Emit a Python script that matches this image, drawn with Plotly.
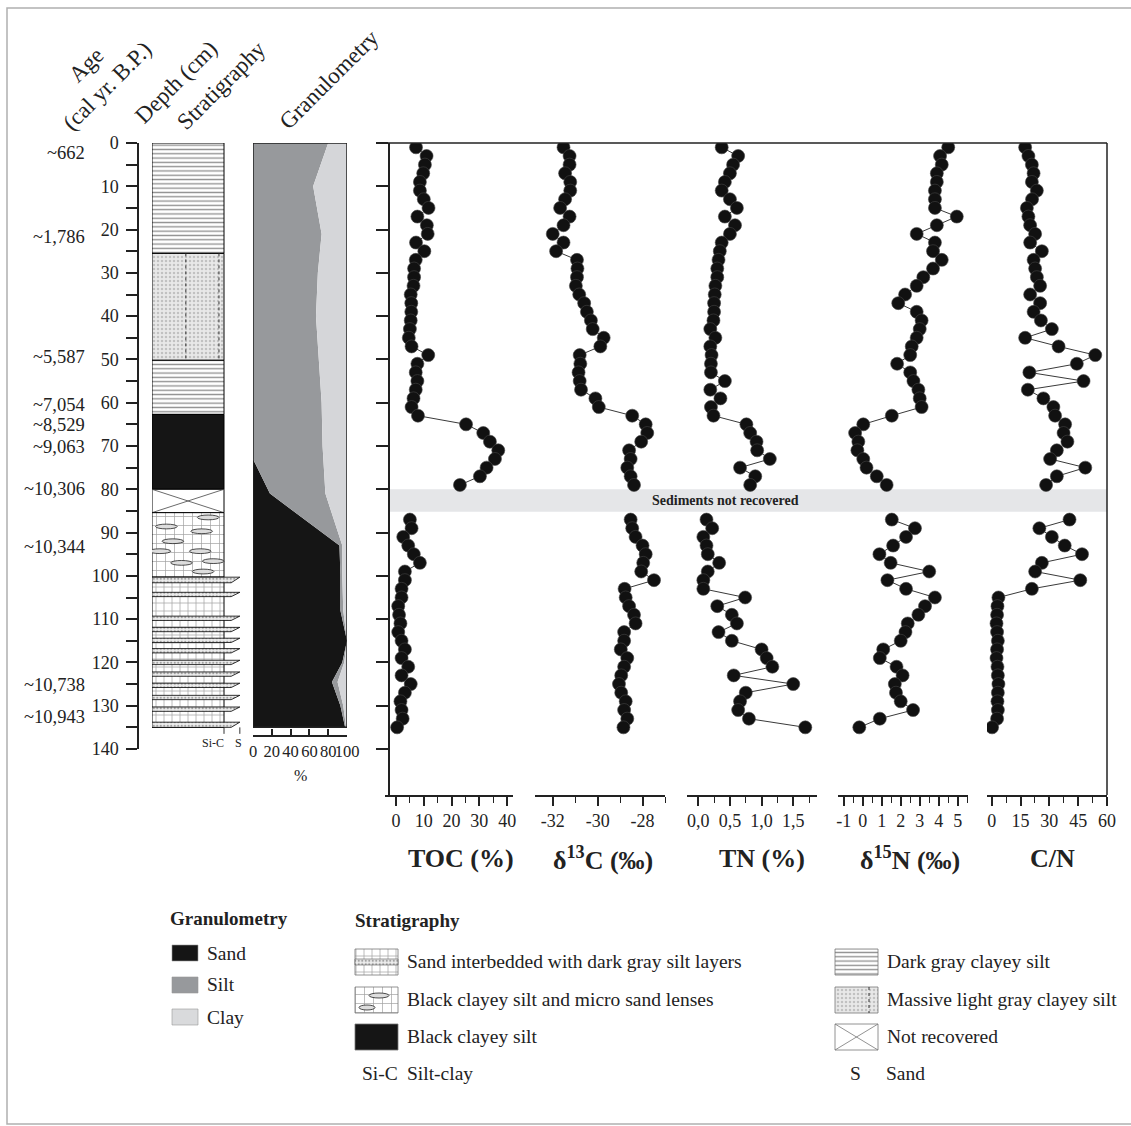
import plotly.graph_objects as go

W, H = 1131, 1126
SERIF = "Liberation Serif, Times New Roman, serif"

# ---------------- data ----------------
# sample depths (cm) above and below the non-recovered interval
depth_upper = list(range(1, 80, 2))
depth_lower = list(range(87, 136, 2))

toc_upper = [7.2, 11, 10.4, 9.8, 8.6, 8.6, 10, 11.7, 7.7, 11.1,
             11.4, 7.2, 10.2, 7.1, 6.5, 6.5, 6.3, 5.3, 5.5, 5.5,
             5.3, 5.0, 4.6, 5.6, 11.6, 7.7, 7.1, 7.7, 7.1, 6.3,
             5.6, 7.9, 25.2, 31.4, 33.8, 36.8, 35.6, 32.6, 30.2, 23]
toc_lower = [5.0, 5.6, 2.6, 4.4, 6.4, 8.6, 3.2, 3.2, 2.0, 2.0,
             0.8, 1.1, 1.6, 0.8, 2.0, 3.2, 2.0, 4.4, 2.0, 5.3,
             3.2, 1.6, 2.0, 2.4, 0.4]

d13c_upper = [-31.52, -31.25, -31.25, -31.45, -31.22, -31.22, -31.45, -31.67, -31.25, -31.52,
              -32.0, -31.52, -31.85, -30.92, -30.9, -30.92, -30.97, -30.82, -30.6, -30.48,
              -30.3, -30.22, -29.73, -29.88, -30.8, -30.77, -30.85, -30.8, -30.74, -30.1,
              -29.95, -28.46, -27.86, -27.79, -28.06, -28.6, -28.53, -28.68, -28.53, -28.38]
d13c_lower = [-28.53, -28.46, -28.31, -28.0, -27.86, -27.97, -28.06, -27.49, -28.8, -28.75,
              -28.6, -28.38, -28.31, -28.82, -28.82, -28.97, -28.68, -28.82, -28.95, -29.05,
              -28.95, -28.75, -28.82, -28.68, -28.85]

tn_upper = [0.37, 0.63, 0.55, 0.5, 0.42, 0.37, 0.5, 0.61, 0.42, 0.58,
            0.5, 0.37, 0.34, 0.32, 0.3, 0.3, 0.27, 0.26, 0.25, 0.25,
            0.24, 0.19, 0.27, 0.19, 0.21, 0.2, 0.2, 0.42, 0.19, 0.35,
            0.2, 0.24, 0.76, 0.82, 0.92, 0.93, 1.13, 0.66, 0.9, 0.82]
tn_lower = [0.13, 0.22, 0.08, 0.13, 0.15, 0.33, 0.15, 0.08, 0.08, 0.74,
            0.3, 0.53, 0.61, 0.32, 0.53, 1.0, 1.08, 1.17, 0.56, 1.5,
            0.75, 0.66, 0.63, 0.8, 1.69]

d15n_upper = [4.5, 4.07, 4.16, 3.9, 3.9, 3.8, 3.8, 3.8, 4.95, 3.9,
              2.84, 3.8, 3.7, 4.16, 3.7, 3.19, 2.84, 2.23, 1.87, 2.84,
              3.1, 3.0, 2.84, 2.58, 2.5, 1.81, 2.5, 2.67, 2.93, 3.0,
              3.1, 1.53, 0.03, -0.4, -0.23, -0.28, 0.03, 0.2, 0.74, 1.26]
d15n_lower = [1.53, 2.75, 2.28, 1.6, 0.88, 1.47, 3.5, 1.3, 2.28, 3.8,
              3.28, 2.93, 2.37, 2.25, 2.0, 1.08, 0.9, 1.78, 2.1, 1.69,
              1.75, 2.0, 2.65, 0.9, -0.18]

cn_upper = [17.4, 19.1, 20.9, 21.8, 20.9, 23.5, 21, 18.3, 19.1, 20,
            22.6, 20, 26.1, 21.8, 22.6, 23.5, 25.2, 20, 25.2, 21.8,
            25.6, 31.3, 17.4, 34.8, 53.9, 44.3, 19.6, 47.8, 18.8, 26.9,
            32.1, 33, 38.2, 37.4, 39.4, 33.9, 30.4, 48.7, 33.9, 28.3]
cn_lower = [40.5, 24.8, 31.3, 38, 47, 26.1, 22.6, 46.1, 20.9, 3.5,
            3.0, 2.8, 2.5, 2.8, 3.2, 2.8, 2.5, 3.0, 3.2, 3.5,
            3.2, 3.0, 3.2, 2.8, 0.2]

age_labels = ["~662", "~1,786", "~5,587", "~7,054", "~8,529",
              "~9,063", "~10,306", "~10,344", "~10,738", "~10,943"]
age_depths = [2.4, 21.8, 49.4, 60.5, 65.2, 70.2, 80.0, 93.3, 125.2, 132.5]

# granulometry, cumulative %
gran_depth = [0, 10, 21, 30, 40, 50, 60, 70, 73, 81, 93, 100, 108, 115, 120, 124.5, 130, 135]
gran_sand = [0, 0, 0, 0, 0, 0, 0, 0, 0, 18, 92, 93, 93, 100, 95, 84, 93, 98]
gran_sand_silt = [80, 64, 73, 69, 67, 70, 73, 74, 75, 77, 95, 95, 96, 100, 97, 90, 96, 99]
gran_total = [100] * len(gran_depth)

# stratigraphy units
strat_top = [0, 25.5, 50.2, 62.7, 80.0, 85.4, 100.3]
strat_bottom = [25.5, 50.2, 62.7, 80.0, 85.4, 100.3, 135]
strat_kind = ["dark_gray", "light_gray", "dark_gray", "black", "not_recovered",
              "lenses", "interbedded"]

sand_layer_top = [100.3, 103.8, 109.3, 111.9, 114.4, 116.8, 119.5, 122.2, 124.8, 127.6, 130.3, 133.8]
sand_layer_bottom = [101.6, 104.8, 110.3, 112.9, 115.4, 117.8, 120.5, 123.2, 125.8, 128.6, 131.3, 135.0]

lens_x = [0.78, 0.2, 0.69, 0.29, 0.67, 0.11, 0.41, 0.85, 0.71]
lens_depth = [86.5, 88.6, 89.7, 92.0, 94.3, 94.3, 97.0, 96.6, 99.0]


def px(x):
    return x / W


def py(y):
    return 1 - y / H


PATTERNS = {
    "dark_gray": dict(fillcolor="white",
                      fillpattern=dict(shape="-", fgcolor="#222222", bgcolor="white", size=4.3, solidity=0.32)),
    "light_gray": dict(fillcolor="#e6e6e6",
                       fillpattern=dict(shape=".", fgcolor="#9a9a9a", bgcolor="#e8e8e8", size=4, solidity=0.3)),
    "black": dict(fillcolor="#151515"),
    "not_recovered": dict(fillcolor="white"),
    "lenses": dict(fillcolor="white",
                   fillpattern=dict(shape="+", fgcolor="#444444", bgcolor="white", size=9, solidity=0.15)),
    "interbedded": dict(fillcolor="white",
                        fillpattern=dict(shape="+", fgcolor="#444444", bgcolor="white", size=8, solidity=0.17)),
    "sand": dict(fillcolor="#eeeeee",
                 fillpattern=dict(shape=".", fgcolor="#555555", bgcolor="#eeeeee", size=3.5, solidity=0.35)),
}


def poly(xs, ys, kind, xaxis, yaxis, lw=1.0, lc="black"):
    return go.Scatter(x=xs, y=ys, mode="lines", fill="toself",
                      line=dict(color=lc, width=lw), xaxis=xaxis, yaxis=yaxis,
                      hoverinfo="skip", **PATTERNS[kind])


def note(x, y, text, size=19, xanchor="center", bold=False, angle=0, xref="paper", yref="paper"):
    if bold:
        text = "<b>" + text + "</b>"
    return dict(x=x, y=y, xref=xref, yref=yref, text=text, showarrow=False,
                xanchor=xanchor, yanchor="middle", textangle=angle,
                font=dict(size=size, family=SERIF, color="#222"))


fig = go.Figure()
shapes = []
notes = []

# ---------------- stratigraphy column ----------------
for top, bot, kind in zip(strat_top, strat_bottom, strat_kind):
    fig.add_trace(poly([0, 1, 1, 0, 0], [top, top, bot, bot, top], kind, "x", "y"))
    if kind == "light_gray":
        for xv in (0.47, 0.93):
            fig.add_trace(go.Scatter(x=[xv, xv], y=[top, bot], mode="lines",
                                     line=dict(color="#333", width=1, dash="dot"),
                                     xaxis="x", yaxis="y", hoverinfo="skip"))
    if kind == "not_recovered":
        fig.add_trace(go.Scatter(x=[0, 1, None, 0, 1], y=[top, bot, None, bot, top], mode="lines",
                                 line=dict(color="#444", width=0.8), xaxis="x", yaxis="y",
                                 hoverinfo="skip"))

for top, bot in zip(sand_layer_top, sand_layer_bottom):
    fig.add_trace(poly([0, 1.22, 1.1, 0, 0], [top, top, bot, bot, top], "sand", "x", "y", lw=0.8))

for cx, d in zip(lens_x, lens_depth):
    shapes.append(dict(type="circle", xref="x", yref="y", x0=cx - 0.15, x1=cx + 0.15,
                       y0=d - 0.55, y1=d + 0.55, fillcolor="#dddddd",
                       line=dict(color="#222", width=0.8)))

# Si-C / S marks
for xv in (1.0, 1.22):
    shapes.append(dict(type="line", xref="x", yref="y", x0=xv, x1=xv, y0=135, y1=136.5,
                       line=dict(color="#333", width=1)))
notes.append(note(1.03, 138.6, "Si-C", size=12, xanchor="right", xref="x", yref="y"))
notes.append(note(1.2, 138.6, "S", size=12, xref="x", yref="y"))

# ---------------- granulometry ----------------
fig.add_trace(go.Scatter(x=gran_sand, y=gran_depth, mode="lines", fill="tozerox",
                         fillcolor="#151515", line=dict(width=0, color="#151515"),
                         xaxis="x2", yaxis="y", hoverinfo="skip"))
fig.add_trace(go.Scatter(x=gran_sand_silt, y=gran_depth, mode="lines", fill="tonextx",
                         fillcolor="#97999c", line=dict(width=0, color="#97999c"),
                         xaxis="x2", yaxis="y", hoverinfo="skip"))
fig.add_trace(go.Scatter(x=gran_total, y=gran_depth, mode="lines", fill="tonextx",
                         fillcolor="#d5d6d9", line=dict(width=0, color="#d5d6d9"),
                         xaxis="x2", yaxis="y", hoverinfo="skip"))
shapes.append(dict(type="rect", xref="x2", yref="y", x0=0, x1=100, y0=0, y1=135,
                   line=dict(color="#222", width=1.5)))

# ---------------- geochemistry panels ----------------
panels = [
    ("x3", toc_upper, toc_lower, "TOC (%)", 461),
    ("x4", d13c_upper, d13c_lower, "δ<sup>13</sup>C (‰)", 603),
    ("x5", tn_upper, tn_lower, "TN (%)", 762),
    ("x6", d15n_upper, d15n_lower, "δ<sup>15</sup>N (‰)", 910),
    ("x7", cn_upper, cn_lower, "C/N", 1052),
]

shapes.append(dict(type="rect", xref="paper", yref="y2", x0=px(389), x1=px(1107), y0=80.0, y1=85.2,
                   fillcolor="#e5e6e8", line=dict(width=0), layer="below"))
notes.append(note(px(725), 82.6, "Sediments not recovered", size=14, bold=True, yref="y2"))

for ax, up, low, title, tx in panels:
    fig.add_trace(go.Scatter(x=up + [None] + low, y=depth_upper + [None] + depth_lower,
                             mode="lines+markers", xaxis=ax, yaxis="y2",
                             line=dict(color="#3a3a3a", width=1),
                             marker=dict(size=13, color="#111111", line=dict(width=0.6, color="#444"))))
    notes.append(note(px(tx), py(858), title, size=26, bold=True))

# data box: top and right edges
shapes.append(dict(type="line", xref="paper", yref="paper", x0=px(376), x1=px(1107), y0=py(143), y1=py(143),
                   line=dict(color="#222", width=1.5)))
shapes.append(dict(type="line", xref="paper", yref="paper", x0=px(1107), x1=px(1107), y0=py(143), y1=py(795),
                   line=dict(color="#222", width=1.5)))

# outer frame
shapes.append(dict(type="rect", xref="paper", yref="paper", x0=px(7), x1=px(1140), y0=py(1124), y1=py(8),
                   line=dict(color="#b0b0b0", width=1.5)))

# ---------------- header and ages ----------------
for text, x, y in (("Age<br>(cal yr. B.P.)", 97, 76), ("Depth (cm)", 176, 83),
                   ("Stratigraphy", 221, 85), ("Granulometry", 329, 79)):
    notes.append(note(px(x), py(y), text, size=23, angle=-45))

for lab, d in zip(age_labels, age_depths):
    notes.append(note(px(87), d, lab, size=18.5, xanchor="right", yref="y"))

notes.append(note(px(300), py(775), "%", size=16))

# ---------------- legend (pixel overlay axis) ----------------
def box(x0, y0, x1, y1):
    return [x0, x1, x1, x0, x0], [y0, y0, y1, y1, y0]


for label, color, top in (("Sand", "#151515", 945), ("Silt", "#97999c", 977), ("Clay", "#d9dadc", 1009)):
    bx, by = box(172, top, 198, top + 16)
    fig.add_trace(go.Scatter(x=bx, y=by, mode="lines", fill="toself", fillcolor=color,
                             line=dict(color="#999", width=0.6), xaxis="x8", yaxis="y3", hoverinfo="skip"))
    notes.append(note(px(205), py(top + 8), label, size=19.5, xanchor="left"))

leg_strat = [
    ("interbedded", "Sand interbedded with dark gray silt layers", 355, 949),
    ("lenses", "Black clayey silt and micro sand lenses", 355, 987),
    ("black", "Black clayey silt", 355, 1024),
    ("dark_gray", "Dark gray clayey silt", 835, 949),
    ("light_gray", "Massive light gray clayey silt", 835, 987),
    ("not_recovered", "Not recovered", 835, 1024),
]
for kind, label, x0, top in leg_strat:
    bx, by = box(x0, top, x0 + 43, top + 26)
    fig.add_trace(poly(bx, by, kind, "x8", "y3", lw=0.8, lc="#777"))
    if kind == "interbedded":
        sx, sy = box(x0, top + 10, x0 + 43, top + 16)
        fig.add_trace(poly(sx, sy, "sand", "x8", "y3", lw=0.6, lc="#555"))
    if kind == "lenses":
        shapes.append(dict(type="circle", xref="x8", yref="y3", x0=x0 + 14, x1=x0 + 34, y0=top + 6, y1=top + 11,
                           fillcolor="#dddddd", line=dict(color="#222", width=0.8)))
        shapes.append(dict(type="circle", xref="x8", yref="y3", x0=x0 + 4, x1=x0 + 20, y0=top + 18, y1=top + 23,
                           fillcolor="#dddddd", line=dict(color="#222", width=0.8)))
    if kind == "light_gray":
        fig.add_trace(go.Scatter(x=[x0 + 34, x0 + 34], y=[top, top + 26], mode="lines",
                                 line=dict(color="#333", width=1, dash="dot"), xaxis="x8", yaxis="y3"))
    if kind == "not_recovered":
        fig.add_trace(go.Scatter(x=[x0, x0 + 43, None, x0, x0 + 43], y=[top, top + 26, None, top + 26, top],
                                 mode="lines", line=dict(color="#777", width=0.8), xaxis="x8", yaxis="y3"))
    notes.append(note(px(x0 + 50), py(top + 12), label, size=19.5, xanchor="left"))

notes.append(note(px(168), py(918), "Granulometry", size=19, xanchor="left", bold=True))
notes.append(note(px(353), py(920), "Stratigraphy", size=19, xanchor="left", bold=True))
for text, x, anchor in (("Si-C", 360, "left"), ("Silt-clay", 405, "left"), ("S", 855, "center"),
                        ("Sand", 884, "left")):
    notes.append(note(px(x), py(1073), text, size=19.5, xanchor=anchor))

# ---------------- axes ----------------
tick_font = dict(size=18, family=SERIF, color="#222")


def data_axis(lo, hi, rng, vals, text, minor_vals):
    return dict(domain=[px(lo), px(hi)], range=rng, anchor="y2", automargin=False, showline=True,
                linecolor="#222", linewidth=1.5, ticks="outside", ticklen=9, tickwidth=1.5, tickcolor="#222",
                tickvals=vals, ticktext=text if text else [str(v) for v in vals], tickangle=0,
                showgrid=False, zeroline=False, tickfont=tick_font,
                minor=dict(tickvals=minor_vals, ticks="outside", ticklen=6, tickwidth=1.3, tickcolor="#222"))


fig.update_layout(
    width=W, height=H, autosize=False,
    margin=dict(l=0, r=0, t=0, b=0, pad=0, autoexpand=False),
    paper_bgcolor="white", plot_bgcolor="rgba(0,0,0,0)",
    showlegend=False,
    font=dict(family=SERIF, color="#222"),
    xaxis=dict(domain=[px(152), px(242)], range=[0, 1.25], anchor="y", visible=False, automargin=False),
    xaxis2=dict(domain=[px(253), px(347)], range=[0, 100], anchor="free", position=py(736), automargin=False,
                showline=True, linecolor="#222", linewidth=1.5, ticks="inside", ticklen=6, tickwidth=1.5,
                tickcolor="#222", tickvals=[0, 20, 40, 60, 80, 100], tickangle=0, showgrid=False,
                zeroline=False, tickfont=dict(size=16.5, family=SERIF, color="#222")),
    yaxis=dict(domain=[py(749), py(143)], range=[140, 0], anchor="free", position=px(138), automargin=False,
               showline=True, linecolor="#222", linewidth=1.5, ticks="outside", ticklen=11, tickwidth=1.5,
               tickcolor="#222", tickvals=list(range(0, 141, 10)), showgrid=False, zeroline=False,
               tickfont=dict(size=18, family=SERIF, color="#222"), ticklabelstandoff=4,
               minor=dict(tickvals=list(range(5, 140, 10)), ticks="outside", ticklen=11, tickwidth=1.5,
                          tickcolor="#222")),
    yaxis2=dict(domain=[py(795), py(143)], range=[150.63, 0], anchor="free", position=px(389), automargin=False,
                showline=True, linecolor="#222", linewidth=1.5, ticks="outside", ticklen=12, tickwidth=1.5,
                tickcolor="#222", tickvals=list(range(0, 141, 10)), showticklabels=False,
                showgrid=False, zeroline=False),
    xaxis3=data_axis(385, 513, [-3.96, 42.1], [0, 10, 20, 30, 40], None, [5, 15, 25, 35]),
    xaxis4=data_axis(535, 665, [-32.79, -27.0], [-32, -30, -28], None, [-31, -29, -27]),
    xaxis5=data_axis(687, 817, [-0.178, 1.875], [0, 0.5, 1.0, 1.5], ["0,0", "0,5", "1,0", "1,5"],
                     [0.25, 0.75, 1.25, 1.75]),
    xaxis6=data_axis(838, 968, [-1.3, 5.54], [-1, 0, 1, 2, 3, 4, 5], None,
                     [-0.5, 0.5, 1.5, 2.5, 3.5, 4.5, 5.5]),
    xaxis7=data_axis(987, 1107, [-2.45, 60.0], [0, 15, 30, 45, 60], None, [7.5, 22.5, 37.5, 52.5]),
    xaxis8=dict(domain=[0, 1], range=[0, W], anchor="y3", visible=False, automargin=False),
    yaxis3=dict(domain=[0, 1], range=[H, 0], anchor="x8", visible=False, automargin=False),
    shapes=shapes,
    annotations=notes,
)

fig.write_html("out.html", config={"displayModeBar": False},
               post_script="document.body.style.margin='0px';document.body.style.overflow='hidden';")
